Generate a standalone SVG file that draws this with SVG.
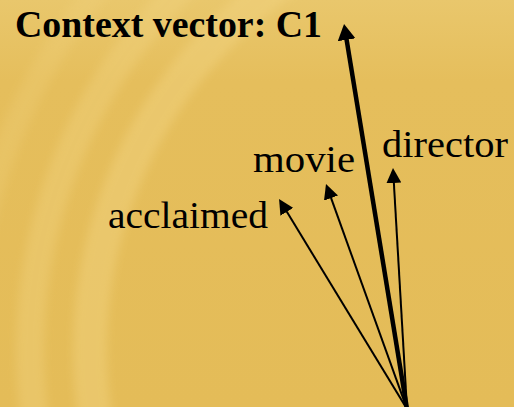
<svg xmlns="http://www.w3.org/2000/svg" width="514" height="407" viewBox="0 0 514 407">
  <defs>
    <linearGradient id="bg" x1="0" y1="0" x2="0" y2="1">
      <stop offset="0" stop-color="#E9C76C"/>
      <stop offset="0.2" stop-color="#E5BE5C"/>
      <stop offset="1" stop-color="#E4BC58"/>
    </linearGradient>
    <filter id="blur" x="-20%" y="-20%" width="140%" height="140%">
      <feGaussianBlur stdDeviation="5"/>
    </filter>
    <marker id="headThick" markerUnits="userSpaceOnUse" markerWidth="16" markerHeight="18" viewBox="0 0 16 18" refX="2" refY="9" orient="auto">
      <path d="M0,0 L16,9 L0,18 z" fill="#000"/>
    </marker>
    <marker id="headThin" markerUnits="userSpaceOnUse" markerWidth="15" markerHeight="15" viewBox="0 0 15 15" refX="2" refY="7.5" orient="auto">
      <path d="M0,0 L15,7.5 L0,15 z" fill="#000"/>
    </marker>
  </defs>
  <style>
    .lbl { font-family: "Liberation Serif", "Times New Roman", serif; font-size: 37px; fill: #000; }
    .title { font-weight: bold; }
    .thin { stroke: #000; stroke-width: 2; fill: none; marker-end: url(#headThin); }
    .thick { stroke: #000; stroke-width: 4.5; fill: none; marker-end: url(#headThick); }
    .band { fill: none; stroke: #F2D482; filter: url(#blur); }
  </style>

  <g id="background">
    <rect x="0" y="0" width="514" height="407" fill="url(#bg)"/>
    <circle class="band" cx="537" cy="350" r="447" stroke-width="34" opacity="0.45"/>
    <circle class="band" cx="537" cy="350" r="507" stroke-width="28" opacity="0.38"/>
    <circle class="band" cx="537" cy="350" r="568" stroke-width="24" opacity="0.25"/>
  </g>

  <g id="connectors">
    <line class="thick" x1="407" y1="409" x2="346.3" y2="37.8"/>
    <line class="thin" x1="407" y1="409" x2="393.75" y2="181"/>
    <line class="thin" x1="407" y1="409" x2="330.4" y2="196.2"/>
    <line class="thin" x1="407" y1="409" x2="285.8" y2="210.1"/>
  </g>

  <g id="context-vector">
    <text class="lbl title" x="15" y="36.5" textLength="307" lengthAdjust="spacingAndGlyphs">Context vector: C1</text>
  </g>
  <g id="director">
    <text class="lbl" x="382" y="157" textLength="126" lengthAdjust="spacingAndGlyphs">director</text>
  </g>
  <g id="movie">
    <text class="lbl" x="253" y="172" textLength="102" lengthAdjust="spacingAndGlyphs">movie</text>
  </g>
  <g id="acclaimed">
    <text class="lbl" x="108" y="227.5" textLength="160" lengthAdjust="spacingAndGlyphs">acclaimed</text>
  </g>
</svg>
